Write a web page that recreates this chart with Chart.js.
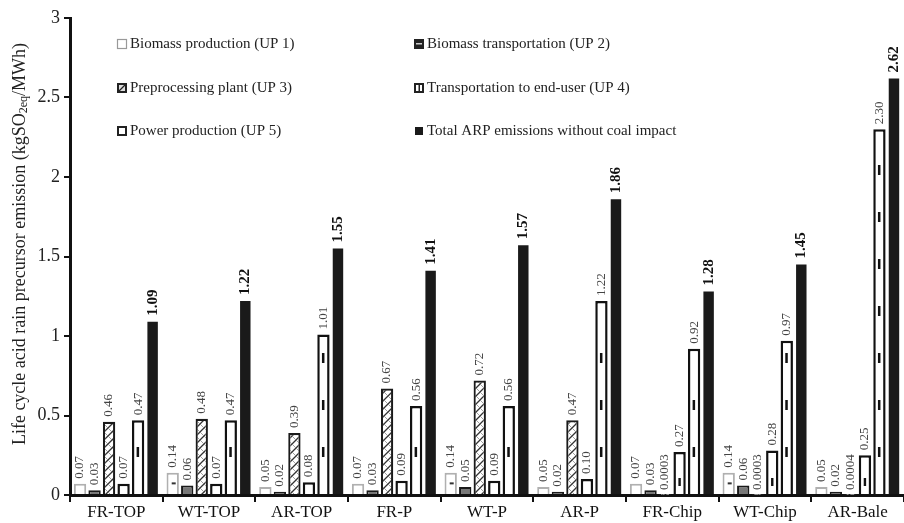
<!DOCTYPE html>
<html><head><meta charset="utf-8">
<script src="https://cdn.jsdelivr.net/npm/chart.js@4.4.1/dist/chart.umd.min.js"></script>
<style>html,body{margin:0;padding:0;background:#fff}#wrap{width:904px;height:523px}</style>
</head><body><div id="wrap"><canvas id="c" width="904" height="523"></canvas></div>
<script>
const categories = ['FR-TOP','WT-TOP','AR-TOP','FR-P','WT-P','AR-P','FR-Chip','WT-Chip','AR-Bale'];
const seriesNames = ['Biomass production (UP 1)','Biomass transportation (UP 2)','Preprocessing plant (UP 3)','Transportation to end-user (UP 4)','Power production (UP 5)','Total ARP emissions without coal impact'];
const up1 = [0.07,0.14,0.05,0.07,0.14,0.05,0.07,0.14,0.05];
const up2 = [0.03,0.06,0.02,0.03,0.05,0.02,0.03,0.06,0.02];
const up3 = [0.46,0.48,0.39,0.67,0.72,0.47,0.0003,0.0003,0.0004];
const up4 = [0.07,0.07,0.08,0.09,0.09,0.10,0.27,0.28,0.25];
const up5 = [0.47,0.47,1.01,0.56,0.56,1.22,0.92,0.97,2.30];
const total = [1.09,1.22,1.55,1.41,1.57,1.86,1.28,1.45,2.62];
const up1Labels = ['0.07','0.14','0.05','0.07','0.14','0.05','0.07','0.14','0.05'];
const up2Labels = ['0.03','0.06','0.02','0.03','0.05','0.02','0.03','0.06','0.02'];
const up3Labels = ['0.46','0.48','0.39','0.67','0.72','0.47','0.0003','0.0003','0.0004'];
const up4Labels = ['0.07','0.07','0.08','0.09','0.09','0.10','0.27','0.28','0.25'];
const up5Labels = ['0.47','0.47','1.01','0.56','0.56','1.22','0.92','0.97','2.30'];
const totalLabels = ['1.09','1.22','1.55','1.41','1.57','1.86','1.28','1.45','2.62'];
const yTicks = [0,0.5,1,1.5,2,2.5,3];

const SERIF = '"Liberation Serif","DejaVu Serif",serif';

function hatch(){
  const c = document.createElement('canvas'); c.width=8; c.height=8;
  const g = c.getContext('2d');
  g.fillStyle='#fff'; g.fillRect(0,0,8,8);
  g.strokeStyle='#333'; g.lineWidth=1.3;
  g.beginPath(); g.moveTo(0,8); g.lineTo(8,0); g.moveTo(-2,2); g.lineTo(2,-2); g.moveTo(6,10); g.lineTo(10,6); g.stroke();
  g.strokeStyle='#888'; g.lineWidth=0.8;
  g.beginPath(); g.moveTo(0,0); g.lineTo(8,8); g.stroke();
  return g.createPattern(c,'repeat');
}
const ctx0 = document.getElementById('c').getContext('2d');
const hatchPat = hatch();

const dataArrays = [up1,up2,up3,up4,up5,total];
const labelArrays = [up1Labels,up2Labels,up3Labels,up4Labels,up5Labels,totalLabels];
const styles = [
  {bg:'#ffffff', bc:'#b0b0b0', bw:2, bp:0.85},
  {bg:'#777777', bc:'#1a1a1a', bw:2, bp:0.85},
  {bg:hatchPat, bc:'#1a1a1a', bw:2.2, bp:0.85},
  {bg:'#ffffff', bc:'#111111', bw:2.5, bp:0.85},
  {bg:'#ffffff', bc:'#111111', bw:2.5, bp:0.85},
  {bg:'#1a1a1a', bc:'#1a1a1a', bw:0, bp:0.72}
];

const valueLabels = {
  id:'valueLabels',
  afterDatasetsDraw(chart){
    const ctx = chart.ctx;
    chart.data.datasets.forEach((ds,di)=>{
      const meta = chart.getDatasetMeta(di);
      meta.data.forEach((el,i)=>{
        if(di===4 || di===3){
          const base = el.base, top = el.y;
          ctx.save(); ctx.fillStyle='#111';
          if(di===4){
            for(let yy=base-42; yy>top+14; yy-=47){ ctx.fillRect(el.x-1.5, yy-5, 2.5, 10); }
          } else {
            for(let yy=base-12; yy>top+8; yy-=30){ ctx.fillRect(el.x-1.2, yy-4, 2.4, 8); }
          }
          ctx.restore();
        }
        if(di===0 && (el.base-el.y)>15){
          ctx.save(); ctx.fillStyle='#333'; ctx.fillRect(el.x-1, (el.base+el.y)/2-1, 4, 2); ctx.restore();
        }
        const bold = di===5;
        ctx.save();
        ctx.translate(el.x, el.y - (bold?6:5));
        ctx.rotate(-Math.PI/2);
        ctx.font = (bold?'bold 15px ':'13px ') + SERIF;
        ctx.fillStyle = bold ? '#111' : '#444';
        ctx.textAlign='left'; ctx.textBaseline='middle';
        ctx.fillText(ds.valueLabels[i], 0, 0);
        ctx.restore();
      });
    });
  }
};

const customLegend = {
  id:'customLegend',
  afterDraw(chart){
    const ctx = chart.ctx;
    const cols = [117, 414];
    const rows = [44, 88, 131];
    seriesNames.forEach((name,i)=>{
      const x = cols[i%2], y = rows[Math.floor(i/2)];
      ctx.save();
      const s=10, bx=x, by=y-5;
      if(i===0){ ctx.fillStyle='#fff'; ctx.fillRect(bx,by,s,s); ctx.strokeStyle='#999'; ctx.lineWidth=1.2; ctx.strokeRect(bx+0.5,by+0.5,s-1,s-1); }
      else if(i===1){ ctx.fillStyle='#222'; ctx.fillRect(bx,by,s,s); ctx.fillStyle='#ccc'; ctx.fillRect(bx+2,by+4,s-4,1.5); }
      else if(i===2){ ctx.fillStyle='#222'; ctx.fillRect(bx,by,s,s); ctx.fillStyle='#ddd'; ctx.fillRect(bx+2,by+2,s-4,s-4); ctx.strokeStyle='#222'; ctx.lineWidth=1.2; ctx.beginPath(); ctx.moveTo(bx+2,by+s-2); ctx.lineTo(bx+s-2,by+2); ctx.stroke(); }
      else if(i===3){ ctx.fillStyle='#222'; ctx.fillRect(bx,by,s,s); ctx.fillStyle='#fff'; ctx.fillRect(bx+2,by+2,s-4,s-4); ctx.fillStyle='#222'; ctx.fillRect(bx+4.5,by+2,1.5,s-4); }
      else if(i===4){ ctx.fillStyle='#222'; ctx.fillRect(bx,by,s,s); ctx.fillStyle='#fff'; ctx.fillRect(bx+2,by+2,s-4,s-4); }
      else { ctx.fillStyle='#1a1a1a'; ctx.fillRect(bx+1,by+1,s-2,s-2); }
      ctx.font = '15px ' + SERIF; ctx.fillStyle='#222';
      ctx.textAlign='left'; ctx.textBaseline='middle';
      ctx.fillText(name, x+13, y);
      ctx.restore();
    });
  }
};

const yTitle = {
  id:'yTitle',
  afterDraw(chart){
    const ctx = chart.ctx;
    const parts = [['Life cycle acid rain precursor emission (kgSO',18,0],['2eq',12,4],['/MWh)',18,0]];
    ctx.save();
    let w=0;
    parts.forEach(p=>{ ctx.font = p[1]+'px '+SERIF; w += ctx.measureText(p[0]).width; });
    ctx.translate(20, 244);
    ctx.rotate(-Math.PI/2);
    ctx.fillStyle='#222'; ctx.textBaseline='middle'; ctx.textAlign='left';
    let x = -w/2;
    parts.forEach(p=>{ ctx.font = p[1]+'px '+SERIF; ctx.fillText(p[0], x, p[2]); x += ctx.measureText(p[0]).width; });
    ctx.restore();
  }
};

new Chart(ctx0, {
  type:'bar',
  data:{
    labels: categories,
    datasets: dataArrays.map((d,i)=>({
      label: seriesNames[i], data: d, valueLabels: labelArrays[i],
      backgroundColor: styles[i].bg, borderColor: styles[i].bc, borderWidth: styles[i].bw,
      borderSkipped: 'bottom',
      barPercentage: styles[i].bp, categoryPercentage: 0.94
    }))
  },
  options:{
    responsive:false, animation:false, devicePixelRatio:1,
    layout:{padding:{top:18,right:0,left:0,bottom:0}},
    plugins:{legend:{display:false}, tooltip:{enabled:false}},
    scales:{
      x:{
        offset:true,
        grid:{display:true, drawOnChartArea:false, offset:true, tickLength:7, color:'#111', lineWidth:2},
        border:{display:true, color:'#111', width:3},
        ticks:{font:{family:SERIF, size:17}, color:'#111', padding:0, maxRotation:0, autoSkip:false},
        afterFit(s){ s.height = 28; }
      },
      y:{
        min:0, max:3,
        afterBuildTicks(s){ s.ticks = yTicks.map(v=>({value:v})); },
        grid:{display:true, drawOnChartArea:false, tickLength:6, color:'#111', lineWidth:2},
        border:{display:true, color:'#111', width:3},
        ticks:{font:{family:SERIF, size:18}, color:'#222', padding:4, callback:(v)=>String(v)},
        afterFit(s){ s.width = 70; }
      }
    }
  },
  plugins:[valueLabels, customLegend, yTitle]
});
</script>
</body></html>
